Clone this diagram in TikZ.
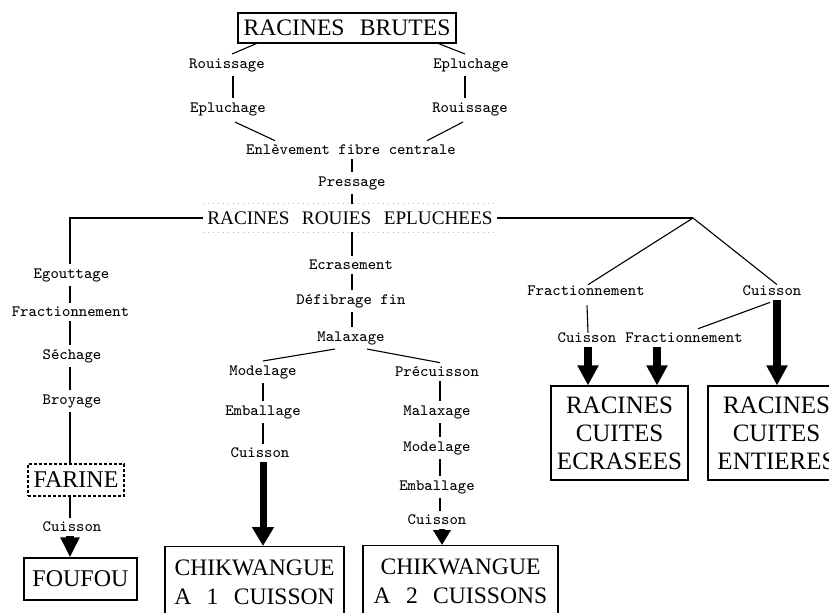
\documentclass[tikz,border=0pt]{standalone}
\usepackage{fontspec}
\newfontfamily\bigf{Liberation Serif}[WordSpace=2.6]
\usetikzlibrary{arrows.meta,calc}
\tikzset{
  lbl/.style={font=\fontsize{7.9}{9}\selectfont\ttfamily, inner sep=2pt},
  box/.style={draw, line width=0.6pt, inner sep=1pt},
  conn/.style={line width=0.55pt},
  fatarrow/.style={line width=4pt, -{Triangle[width=10pt,length=10pt]}},
  bigarrow/.style={line width=3.5pt, -{Triangle[width=10.5pt,length=9.5pt]}},
  smallarrow/.style={line width=3pt, -{Triangle[width=8.5pt,length=7.5pt]}},
}
\begin{document}
\begin{tikzpicture}[x=0.5pt,y=-0.5pt]
\useasboundingbox (0,0) rectangle (829,612);
\clip (0,0) rectangle (829,612);

% ---------- top ----------
\node[box, font=\bigf\fontsize{11.8}{14}\selectfont, minimum width=109pt, minimum height=15pt] (rb) at (347,28) {RACINES BRUTES};
\node[lbl] (rou1) at (227,65) {Rouissage};
\node[lbl] (epl2) at (471,65) {Epluchage};
\node[lbl] (epl1) at (228,109) {Epluchage};
\node[lbl] (rou2) at (470,109) {Rouissage};
\node[lbl] (enl) at (351,150) {Enlèvement fibre centrale};
\node[lbl] (pre) at (352,183) {Pressage};
\node[font=\bigf\fontsize{9.6}{12}\selectfont, inner xsep=2pt, inner ysep=3.6pt] (rre) at (350,218) {RACINES ROUIES EPLUCHEES};
\draw[gray!60, dotted, line width=0.5pt] (rre.north west) -- (rre.north east);
\draw[gray!60, dotted, line width=0.5pt] (rre.south west) -- (rre.south east);

\draw[conn] ($(rb.south west)+(19,0)$) -- ($(rou1.north)+(5,0)$);
\draw[conn] ($(rb.south east)+(-18,0)$) -- ($(epl2.north)+(-6,0)$);
\draw[conn] ($(rou1.south)+(6,0)$) -- ($(epl1.north)+(5,0)$);
\draw[conn] ($(epl2.south)+(-6,0)$) -- ($(rou2.north)+(-5,0)$);
\draw[conn] ($(epl1.south)+(7,2)$) -- ($(enl.north)+(-76,0)$);
\draw[conn] ($(rou2.south)+(-7,2)$) -- ($(enl.north)+(76,0)$);
\draw[conn] (enl.south -| pre.north) -- (pre.north);
\draw[conn] (pre.south) -- (pre.south |- rre.north);

% ---------- left branch ----------
\coordinate (cL) at (70,218);
\node[lbl] (egt) at (71.5,275) {Egouttage};
\node[lbl] (fra) at (70.5,312) {Fractionnement};
\node[lbl] (sec) at (72,356) {Séchage};
\node[lbl] (bro) at (72,401) {Broyage};
\node[box, dash pattern=on 1.5pt off 1pt, font=\bigf\fontsize{12}{14}\selectfont, minimum width=48pt, minimum height=16pt] (far) at (76,480) {FARINE};
\node[lbl] (cui0) at (72,527) {Cuisson};
\node[box, font=\bigf\fontsize{12}{14}\selectfont, minimum width=56.5pt, minimum height=21pt] (fou) at (80.5,579) {FOUFOU};

\draw[conn] (rre.west) -- (cL) -- (cL |- egt.north);
\draw[conn] (egt.south -| cL) -- (fra.north -| cL);
\draw[conn] (fra.south -| cL) -- (sec.north -| cL);
\draw[conn] (sec.south -| cL) -- (bro.north -| cL);
\draw[conn] (bro.south -| cL) -- (far.north -| cL);
\draw[conn] (far.south -| cL) -- (cui0.north -| cL);
\draw[fatarrow, -{Triangle[width=9pt,length=10pt]}] (cui0.south -| cL) -- (fou.north -| cL);

% ---------- middle branch ----------
\node[lbl] (ecr) at (351,265) {Ecrasement};
\node[lbl] (def) at (351,301) {Défibrage fin};
\node[lbl] (mal) at (351,338) {Malaxage};
\node[lbl] (mod1) at (263,372) {Modelage};
\node[lbl] (emb1) at (263,412) {Emballage};
\node[lbl] (cui1) at (260,453) {Cuisson};
\node[lbl] (prc) at (437,372) {Précuisson};
\node[lbl] (mal2) at (437,412) {Malaxage};
\node[lbl] (mod2) at (437,448) {Modelage};
\node[lbl] (emb2) at (437,487) {Emballage};
\node[lbl] (cui2) at (437,520) {Cuisson};
\coordinate (xr) at (440,0);

\node[box, font=\bigf\fontsize{11.8}{14.5}\selectfont, align=center, anchor=north, minimum width=89.5pt, inner ysep=6.75pt] (chik1) at (254.5,546) {CHIKWANGUE\\A 1 CUISSON};
\node[box, font=\bigf\fontsize{11.8}{14.5}\selectfont, align=center, anchor=north, minimum width=97.5pt, inner ysep=6.75pt] (chik2) at (460.5,545) {CHIKWANGUE\\A 2 CUISSONS};

\draw[conn] (rre.south -| pre.north) -- (ecr.north -| pre.north);
\draw[conn] (ecr.south -| pre.north) -- (def.north -| pre.north);
\draw[conn] (def.south -| pre.north) -- (mal.north -| pre.north);
\draw[conn] ($(mal.south)+(-16,0)$) -- (mod1.north);
\draw[conn] ($(mal.south)+(16,0)$) -- ($(prc.north)+(3,0)$);
\draw[conn] (mod1.south) -- (emb1.north);
\draw[conn] (emb1.south) -- (cui1.north -| emb1.south);
\draw[bigarrow] (cui1.south -| mod1.south) -- (chik1.north -| mod1.south);
\draw[conn] (prc.south -| xr) -- (mal2.north -| xr);
\draw[conn] (mal2.south -| xr) -- (mod2.north -| xr);
\draw[conn] (mod2.south -| xr) -- (emb2.north -| xr);
\draw[conn] (emb2.south -| xr) -- (cui2.north -| xr);
\draw[smallarrow] ($(cui2.south -| xr)+(2,0)$) -- ($(chik2.north -| xr)+(2,0)$);

% ---------- right branch ----------
\coordinate (cR) at (693,218);
\node[lbl] (fr1) at (586,291) {Fractionnement};
\node[lbl] (cu1) at (772,291) {Cuisson};
\node[lbl] (cu2) at (587,338) {Cuisson};
\node[lbl] (fr2) at (684,338) {Fractionnement};
\node[box, font=\bigf\fontsize{12.5}{14}\selectfont, align=center, minimum width=68.5pt, minimum height=47pt] (rce) at (619.5,433) {RACINES\\CUITES\\ECRASEES};
\node[box, font=\bigf\fontsize{12.5}{14}\selectfont, align=center, minimum width=68.5pt, minimum height=47pt] (rcent) at (776.5,433) {RACINES\\CUITES\\ENTIERES};

\draw[conn] (rre.east) -- (cR);
\draw[conn] (cR) -- ($(fr1.north)+(2,3)$);
\draw[conn] (cR) -- ($(cu1.north)+(5,3)$);
\draw[conn] ($(fr1.south)+(1,5)$) -- ($(cu2.north)+(1,4)$);
\draw[conn] ($(cu1.south)+(-2,2)$) -- ($(fr2.north)+(14,0)$);
\draw[fatarrow] ($(cu2.south)+(1,0)$) -- ($(rce.north)+(-31.5,0)$);
\draw[fatarrow] ($(fr2.south)+(-27,0)$) -- ($(rce.north)+(37.5,0)$);
\draw[fatarrow] ($(cu1.south)+(5,0)$) -- ($(rcent.north)+(0.5,0)$);
\end{tikzpicture}
\end{document}
